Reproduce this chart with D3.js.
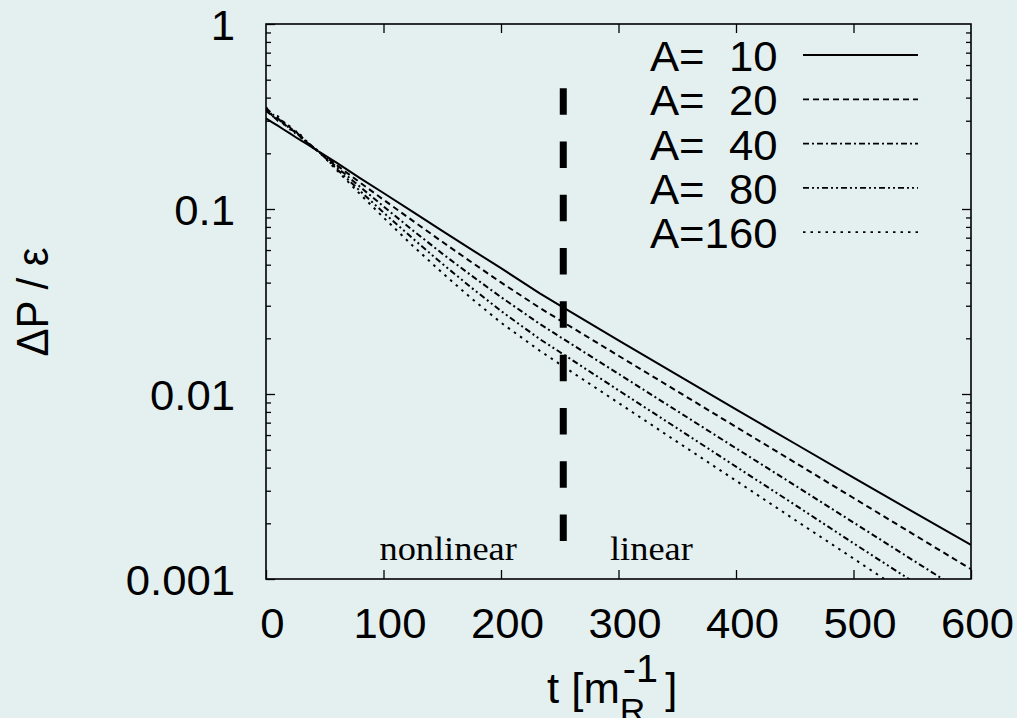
<!DOCTYPE html>
<html>
<head>
<meta charset="utf-8">
<script src="https://cdn.jsdelivr.net/npm/d3@7"></script>
<style>
  body { margin: 0; background: #e4f0f0; }
  text { font-family: "Liberation Sans", Arial, sans-serif; fill: #000; }
</style>
</head>
<body>
<script>
// time grid shared by all curves
var times = [0, 5, 10, 15, 20, 25, 30, 35, 40, 45, 60, 80, 100, 125, 150, 175, 200, 233,
  250, 300, 350, 400, 450, 500, 550, 600];

var dP_A10 = [0.309, 0.295, 0.282, 0.269, 0.257, 0.245, 0.234, 0.224, 0.214, 0.204,
  0.178, 0.147, 0.122, 0.0964, 0.0762, 0.0603, 0.0479, 0.0350,
  0.0301, 0.0195, 0.01268, 0.00826, 0.00540, 0.00353, 0.00232, 0.00153];
var dP_A20 = [0.339, 0.322, 0.300, 0.291, 0.270, 0.262, 0.243, 0.229, 0.215, 0.204,
  0.173, 0.139, 0.1122, 0.0863, 0.0665, 0.0515, 0.0401, 0.0292,
  0.0251, 0.0161, 0.01035, 0.00664, 0.00427, 0.00274, 0.00176, 0.00113];
var dP_A40 = [0.345, 0.318, 0.310, 0.287, 0.278, 0.256, 0.247, 0.228, 0.217, 0.204,
  0.169, 0.1318, 0.1033, 0.0766, 0.0574, 0.0436, 0.0334, 0.0239,
  0.0204, 0.01285, 0.00809, 0.00509, 0.00321, 0.00202, 0.00127, 0.00080];
var dP_A80 = [0.352, 0.328, 0.306, 0.296, 0.272, 0.265, 0.242, 0.232, 0.214, 0.204,
  0.165, 0.1253, 0.0957, 0.0692, 0.0506, 0.0375, 0.0281, 0.0198,
  0.01687, 0.01047, 0.00652, 0.00405, 0.00252, 0.00156, 0.000973, 0.000604];
var dP_A160 = [0.355, 0.322, 0.318, 0.289, 0.281, 0.259, 0.250, 0.226, 0.218, 0.204,
  0.1626, 0.1205, 0.0899, 0.0632, 0.0452, 0.0328, 0.0243, 0.01714,
  0.01452, 0.00895, 0.00551, 0.00340, 0.00209, 0.00129, 0.000793, 0.000489];

var seriesLabels = ["A=  10", "A=  20", "A=  40", "A=  80", "A=160"];
var seriesValues = [dP_A10, dP_A20, dP_A40, dP_A80, dP_A160];

var xTicks = [0, 100, 200, 300, 400, 500, 600];
var yTicks = [1, 0.1, 0.01, 0.001];
var yTickLabels = ["1", "0.1", "0.01", "0.001"];

// vertical boundary between nonlinear / linear regime
var boundaryT = 253;
var boundaryRange = [0.45, 0.00157];
var regionLabels = ["nonlinear", "linear"];
var regionT = [155, 328];
var regionY = [0.00127, 0.00127];

var dashStyles = ["none", "6,4", "6,3,2,3", "6,3,2,3,2,3", "2.5,5"];
var sx = 1.04; // the original text is slightly wide

var margin = {top: 24, right: 46, bottom: 139, left: 266},
    width = 1017 - margin.left - margin.right,
    height = 718 - margin.top - margin.bottom;

var svg = d3.select("body").append("svg")
    .attr("width", 1017)
    .attr("height", 718);

svg.append("rect")
    .attr("width", 1017).attr("height", 718)
    .style("fill", "#e4f0f0");

var x = d3.scaleLinear().domain([0, 600]).range([0, width]);
var y = d3.scaleLog().domain([0.001, 1]).range([height, 0]);

var chart = svg.append("g")
    .attr("transform", "translate(" + margin.left + "," + margin.top + ")");

chart.append("clipPath").attr("id", "plot-clip")
  .append("rect").attr("width", width).attr("height", height);

var minorTicks = y.ticks().filter(function(d) {
  return Math.abs(Math.log10(d) - Math.round(Math.log10(d))) > 1e-6;
});

function styleAxis(g) {
  g.select(".domain").remove();
  g.selectAll("line").style("stroke", "#000").style("stroke-width", 1.3);
}

// bottom axis with labels
var bottom = chart.append("g")
    .attr("transform", "translate(0," + height + ")")
    .call(d3.axisBottom(x).tickValues(xTicks).tickSize(-9).tickFormat(d3.format("d")))
    .call(styleAxis);
bottom.selectAll("text")
    .attr("y", 59).attr("dy", null).attr("x", 6 / sx)
    .attr("transform", "scale(" + sx + ",1)")
    .attr("font-size", 42).attr("font-family", null);

chart.append("g")
    .call(d3.axisTop(x).tickValues(xTicks.slice(1, -1)).tickSize(-9).tickFormat(""))
    .call(styleAxis);

// left axis, majors with labels
var left = chart.append("g")
    .call(d3.axisLeft(y).tickValues(yTicks).tickSize(-9)
      .tickFormat(function(d, i) { return yTickLabels[i]; }))
    .call(styleAxis);
left.selectAll("text")
    .attr("x", -31 / sx).attr("dy", "0.36em")
    .attr("transform", "scale(" + sx + ",1)")
    .attr("font-size", 42).attr("font-family", null);

chart.append("g")
    .call(d3.axisLeft(y).tickValues(minorTicks).tickSize(-5).tickFormat(""))
    .call(styleAxis);

chart.append("g")
    .attr("transform", "translate(" + width + ",0)")
    .call(d3.axisRight(y).tickValues(yTicks.slice(1, -1)).tickSize(-9).tickFormat(""))
    .call(styleAxis);
chart.append("g")
    .attr("transform", "translate(" + width + ",0)")
    .call(d3.axisRight(y).tickValues(minorTicks).tickSize(-5).tickFormat(""))
    .call(styleAxis);

// frame
chart.append("rect")
    .attr("width", width).attr("height", height)
    .style("fill", "none").style("stroke", "#000").style("stroke-width", 1.6);

// curves
var line = d3.line()
    .x(function(d, i) { return x(times[i]); })
    .y(function(d) { return y(d); });

chart.append("g").attr("clip-path", "url(#plot-clip)")
  .selectAll(".curve")
  .data(seriesValues)
  .enter().append("path")
    .attr("class", "curve")
    .attr("d", line)
    .style("fill", "none")
    .style("stroke", "#000")
    .style("stroke-width", 2)
    .style("stroke-dasharray", function(d, i) { return dashStyles[i]; });

// regime boundary
chart.append("line")
    .attr("x1", x(boundaryT)).attr("x2", x(boundaryT))
    .attr("y1", y(boundaryRange[0])).attr("y2", y(boundaryRange[1]))
    .style("stroke", "#000").style("stroke-width", 7)
    .style("stroke-dasharray", "26.5,26.8");

chart.selectAll(".region")
  .data(regionLabels)
  .enter().append("text")
    .attr("class", "region")
    .attr("transform", function(d, i) {
      return "translate(" + x(regionT[i]) + "," + y(regionY[i]) + ") scale(1.07,1)";
    })
    .attr("text-anchor", "middle")
    .style("font-family", "'Liberation Serif', 'Times New Roman', serif")
    .style("font-size", "34px")
    .text(function(d) { return d; });

// legend
var legend = svg.append("g").attr("transform", "translate(650,71)");
seriesLabels.forEach(function(lab, i) {
  var row = legend.append("g").attr("transform", "translate(0," + (i * 44.3) + ")");
  row.append("text")
      .attr("transform", "scale(" + sx + ",1)")
      .attr("xml:space", "preserve")
      .style("white-space", "pre")
      .style("font-size", "42px")
      .text(lab);
  row.append("line")
      .attr("x1", 153).attr("x2", 268)
      .attr("y1", -16).attr("y2", -16)
      .style("stroke", "#000").style("stroke-width", 1.8)
      .style("stroke-dasharray", dashStyles[i]);
});

// axis titles
svg.append("text")
    .attr("transform", "translate(48,302) rotate(-90) scale(1,1.07)")
    .attr("text-anchor", "middle")
    .style("font-size", "42px")
    .text("\u0394P / \u03b5");

var xl = svg.append("g").attr("transform", "translate(547,703) scale(" + sx + ",1)");
var t1 = xl.append("text").style("font-size", "42px").text("t [m");
var w1 = t1.node().getComputedTextLength();
xl.append("text").attr("x", w1).attr("y", 19).style("font-size", "34px").text("R");
var sup = xl.append("text").attr("x", w1 + 3).attr("y", -21).style("font-size", "38px").text("-1");
var w2 = sup.node().getComputedTextLength();
xl.append("text").attr("x", w1 + w2 + 10).style("font-size", "42px").text("]");
</script>
</body>
</html>
